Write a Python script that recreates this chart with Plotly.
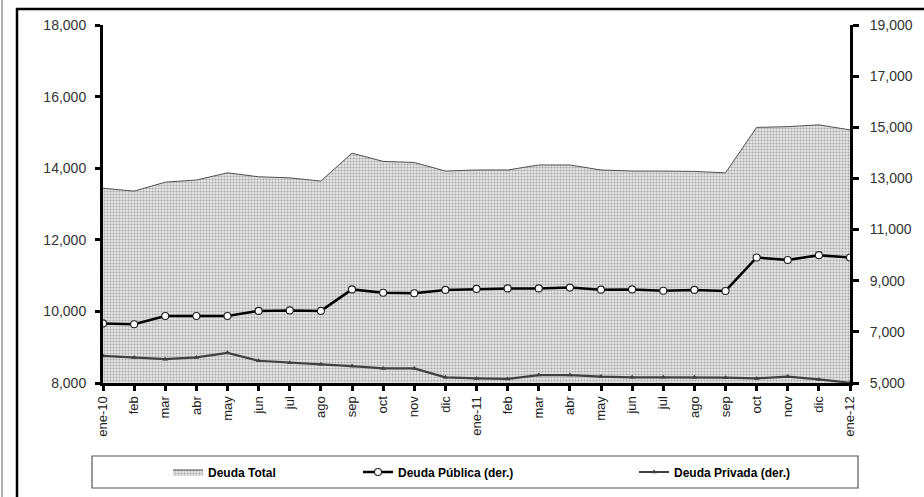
import plotly.graph_objects as go

# ---------------- data ----------------
months = ["ene-10", "feb", "mar", "abr", "may", "jun", "jul", "ago", "sep", "oct", "nov", "dic",
          "ene-11", "feb", "mar", "abr", "may", "jun", "jul", "ago", "sep", "oct", "nov", "dic",
          "ene-12"]
deuda_total = [13440, 13360, 13610, 13670, 13870, 13760, 13730, 13640, 14420, 14190, 14160, 13920,
               13950, 13950, 14090, 14090, 13950, 13920, 13920, 13910, 13870, 15140, 15160, 15210,
               15070]
deuda_publica = [7330, 7300, 7620, 7620, 7620, 7820, 7840, 7820, 8660, 8530, 8510, 8640,
                 8680, 8700, 8700, 8730, 8650, 8660, 8610, 8640, 8600, 9910, 9810, 10000,
                 9910]
deuda_privada = [6060, 6000, 5930, 6000, 6180, 5870, 5790, 5730, 5660, 5570, 5570, 5220,
                 5180, 5160, 5310, 5310, 5250, 5220, 5220, 5220, 5210, 5180, 5250, 5140,
                 5010]
left_ticks = [8000, 10000, 12000, 14000, 16000, 18000]
right_ticks = [5000, 7000, 9000, 11000, 13000, 15000, 17000, 19000]

x = list(range(len(months)))

# ---------------- layout geometry (pixels) ----------------
W, H = 924, 497
L, R, T, B = 103, 850, 25, 383
pw, ph = R - L, B - T


def px(xp):
    return (xp - L) / pw


def py(yp):
    return (B - yp) / ph


FONT = "Liberation Sans, Arial, sans-serif"

fig = go.Figure()

fig.add_trace(go.Scatter(
    x=x, y=deuda_total, name="Deuda Total", mode="lines",
    line=dict(color="#505050", width=1),
    fill="tozeroy", fillcolor="#d4d4d4",
    fillpattern=dict(shape=".", size=3, solidity=0.4, fgcolor="#a8a8a8", bgcolor="#e6e6e6"),
    legend="legend", yaxis="y",
))

fig.add_trace(go.Scatter(
    x=x, y=deuda_publica, name="Deuda Pública (der.)", mode="lines+markers",
    line=dict(color="black", width=2.5),
    marker=dict(symbol="circle", size=7, color="white", line=dict(color="#222", width=1.1)),
    legend="legend2", yaxis="y2",
))

fig.add_trace(go.Scatter(
    x=x, y=deuda_privada, name="Deuda Privada (der.)", mode="lines+markers",
    line=dict(color="#404040", width=2.2),
    marker=dict(symbol="triangle-up", size=5, color="#404040"),
    legend="legend3", yaxis="y2",
))

legend_font = dict(family=FONT, size=12, color="black", weight="bold")
leg_common = dict(font=legend_font, bgcolor="rgba(0,0,0,0)", borderwidth=0,
                  xref="container", yref="container",
                  xanchor="left", yanchor="middle", orientation="h", itemwidth=30)

fig.update_layout(
    template="none",
    width=W, height=H,
    margin=dict(l=L, r=W - R, t=T, b=H - B, pad=0, autoexpand=False),
    paper_bgcolor="white", plot_bgcolor="white",
    font=dict(family=FONT, color="#333"),
    showlegend=True,
    legend=dict(x=168 / W, y=1 - 472 / H, **leg_common),
    legend2=dict(x=358 / W, y=1 - 472 / H, **leg_common),
    legend3=dict(x=634 / W, y=1 - 472 / H, **leg_common),
    xaxis=dict(
        range=[0, 24], tickmode="array", tickvals=x, ticktext=months,
        tickangle=-90, ticks="outside", ticklen=5, tickwidth=3, tickcolor="black",
        showline=True, linewidth=3, linecolor="black", showgrid=False, zeroline=False,
        automargin=False,
        tickfont=dict(family=FONT, size=13, color="#222"),
    ),
    yaxis=dict(
        range=[8000, 18000], tickmode="array", tickvals=left_ticks,
        tickformat=",d", ticks="outside", ticklen=5, tickwidth=3, tickcolor="black",
        showline=True, linewidth=3, linecolor="black", showgrid=False, zeroline=False,
        automargin=False,
        tickfont=dict(family=FONT, size=14, color="#333"), ticklabelstandoff=6,
    ),
    yaxis2=dict(
        range=[5000, 19000], tickmode="array", tickvals=right_ticks,
        tickformat=",d", overlaying="y", side="right",
        ticks="outside", ticklen=6, tickwidth=3, tickcolor="black",
        showline=True, linewidth=3, linecolor="black", showgrid=False, zeroline=False,
        automargin=False,
        tickfont=dict(family=FONT, size=14, color="#333"), ticklabelstandoff=8,
    ),
    shapes=[
        # outer chart frame
        dict(type="rect", xref="paper", yref="paper",
             x0=px(17), x1=px(930), y0=py(505), y1=py(9),
             line=dict(color="black", width=2.5), layer="above"),
        # light gray edge at far left
        dict(type="line", xref="paper", yref="paper",
             x0=px(2), x1=px(2), y0=py(0), y1=py(497),
             line=dict(color="#b0b0b0", width=2)),
        # legend box
        dict(type="rect", xref="paper", yref="paper",
             x0=px(92), x1=px(858), y0=py(488), y1=py(456),
             line=dict(color="#555", width=1.2)),
    ],
)

fig.write_html(
    "out.html",
    config={"displayModeBar": False},
    post_script="document.body.style.margin='0';document.body.style.overflow='hidden';",
)
